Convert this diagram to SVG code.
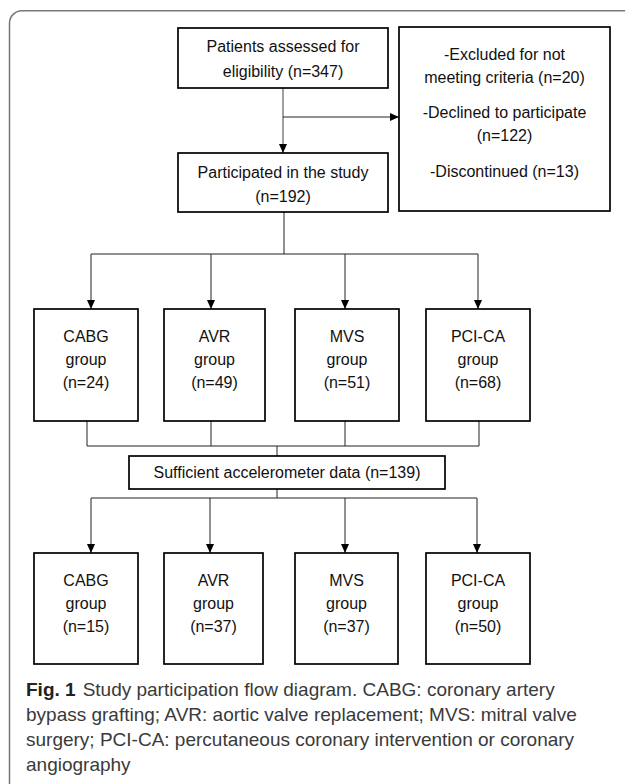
<svg xmlns="http://www.w3.org/2000/svg" width="625" height="784" viewBox="0 0 625 784">
<defs>
<marker id="arr" markerWidth="10" markerHeight="10" refX="9" refY="5" orient="auto" markerUnits="userSpaceOnUse">
<path d="M0,1 L9,5 L0,9 Z" fill="#000"/>
</marker>
<style>
.box{fill:#fff;stroke:#000;stroke-width:1.7}
.t{font-family:"Liberation Sans",Arial,sans-serif;font-size:16px;fill:#111;text-anchor:middle}
.c{fill:none;stroke:#222;stroke-width:1}
.cap{font-family:"Liberation Sans",Arial,sans-serif;font-size:19px;fill:#3a3a3a}
</style>
</defs>
<rect width="625" height="784" fill="#fff"/>
<path d="M625,10.7 H22 A12.5,12.5 0 0 0 9.5,23.2 V784" fill="none" stroke="#777" stroke-width="1.5"/>

<g id="connectors">
<line x1="283" y1="88" x2="283" y2="153" stroke="#888" stroke-width="1.6" marker-end="url(#arr)"/>
<line class="c" x1="283" y1="117" x2="399" y2="117" marker-end="url(#arr)"/>
<line class="c" x1="284" y1="212" x2="284" y2="254"/>
<line class="c" x1="91" y1="254" x2="478" y2="254"/>
<line class="c" x1="91" y1="254" x2="91" y2="309" marker-end="url(#arr)"/>
<line class="c" x1="211" y1="254" x2="211" y2="309" marker-end="url(#arr)"/>
<line class="c" x1="345" y1="254" x2="345" y2="309" marker-end="url(#arr)"/>
<line class="c" x1="478" y1="254" x2="478" y2="309" marker-end="url(#arr)"/>
<line class="c" x1="87" y1="421" x2="87" y2="446"/>
<line class="c" x1="211" y1="421" x2="211" y2="446"/>
<line class="c" x1="345" y1="421" x2="345" y2="446"/>
<line class="c" x1="479" y1="421" x2="479" y2="446"/>
<line class="c" x1="87" y1="446" x2="479" y2="446"/>
<line class="c" x1="277" y1="446" x2="277" y2="456"/>
<line class="c" x1="277" y1="489" x2="277" y2="498"/>
<line class="c" x1="91" y1="498" x2="477" y2="498"/>
<line class="c" x1="91" y1="498" x2="91" y2="553" marker-end="url(#arr)"/>
<line class="c" x1="210" y1="498" x2="210" y2="553" marker-end="url(#arr)"/>
<line class="c" x1="345" y1="498" x2="345" y2="553" marker-end="url(#arr)"/>
<line class="c" x1="477" y1="498" x2="477" y2="553" marker-end="url(#arr)"/>
</g>

<g id="assessed">
<rect class="box" x="178" y="28" width="210" height="60"/>
<text class="t" x="283" y="52">Patients assessed for</text>
<text class="t" x="283" y="77">eligibility (n=347)</text>
</g>
<g id="excluded">
<rect class="box" x="399" y="27" width="211" height="184"/>
<text class="t" x="504.5" y="60">-Excluded for not</text>
<text class="t" x="504.5" y="83">meeting criteria (n=20)</text>
<text class="t" x="504.5" y="118">-Declined to participate</text>
<text class="t" x="504.5" y="141">(n=122)</text>
<text class="t" x="504.5" y="177">-Discontinued (n=13)</text>
</g>
<g id="participated">
<rect class="box" x="178" y="153" width="210" height="59"/>
<text class="t" x="283" y="178">Participated in the study</text>
<text class="t" x="283" y="202">(n=192)</text>
</g>

<g id="cabg1">
<rect class="box" x="34" y="309" width="104" height="112"/>
<text class="t" x="86" y="342">CABG</text>
<text class="t" x="86" y="365">group</text>
<text class="t" x="86" y="388">(n=24)</text>
</g>
<g id="avr1">
<rect class="box" x="164" y="309" width="101" height="112"/>
<text class="t" x="214.5" y="342">AVR</text>
<text class="t" x="214.5" y="365">group</text>
<text class="t" x="214.5" y="388">(n=49)</text>
</g>
<g id="mvs1">
<rect class="box" x="295" y="309" width="104" height="112"/>
<text class="t" x="347" y="342">MVS</text>
<text class="t" x="347" y="365">group</text>
<text class="t" x="347" y="388">(n=51)</text>
</g>
<g id="pci1">
<rect class="box" x="426" y="309" width="104" height="112"/>
<text class="t" x="478" y="342">PCI-CA</text>
<text class="t" x="478" y="365">group</text>
<text class="t" x="478" y="388">(n=68)</text>
</g>

<g id="sufficient">
<rect class="box" x="129" y="456" width="316" height="33"/>
<text class="t" x="287" y="478">Sufficient accelerometer data (n=139)</text>
</g>

<g id="cabg2">
<rect class="box" x="34" y="553" width="104" height="111"/>
<text class="t" x="86" y="586">CABG</text>
<text class="t" x="86" y="609">group</text>
<text class="t" x="86" y="632">(n=15)</text>
</g>
<g id="avr2">
<rect class="box" x="164" y="553" width="99" height="111"/>
<text class="t" x="213.5" y="586">AVR</text>
<text class="t" x="213.5" y="609">group</text>
<text class="t" x="213.5" y="632">(n=37)</text>
</g>
<g id="mvs2">
<rect class="box" x="295" y="553" width="103" height="111"/>
<text class="t" x="346.5" y="586">MVS</text>
<text class="t" x="346.5" y="609">group</text>
<text class="t" x="346.5" y="632">(n=37)</text>
</g>
<g id="pci2">
<rect class="box" x="426" y="553" width="104" height="111"/>
<text class="t" x="478" y="586">PCI-CA</text>
<text class="t" x="478" y="609">group</text>
<text class="t" x="478" y="632">(n=50)</text>
</g>

<g id="caption">
<text class="cap" x="26" y="696"><tspan font-weight="bold" fill="#222">Fig. 1</tspan><tspan dx="7">Study participation flow diagram. CABG: coronary artery</tspan></text>
<text class="cap" x="26" y="721">bypass grafting; AVR: aortic valve replacement; MVS: mitral valve</text>
<text class="cap" x="26" y="746">surgery; PCI-CA: percutaneous coronary intervention or coronary</text>
<text class="cap" x="26" y="771">angiography</text>
</g>
</svg>
